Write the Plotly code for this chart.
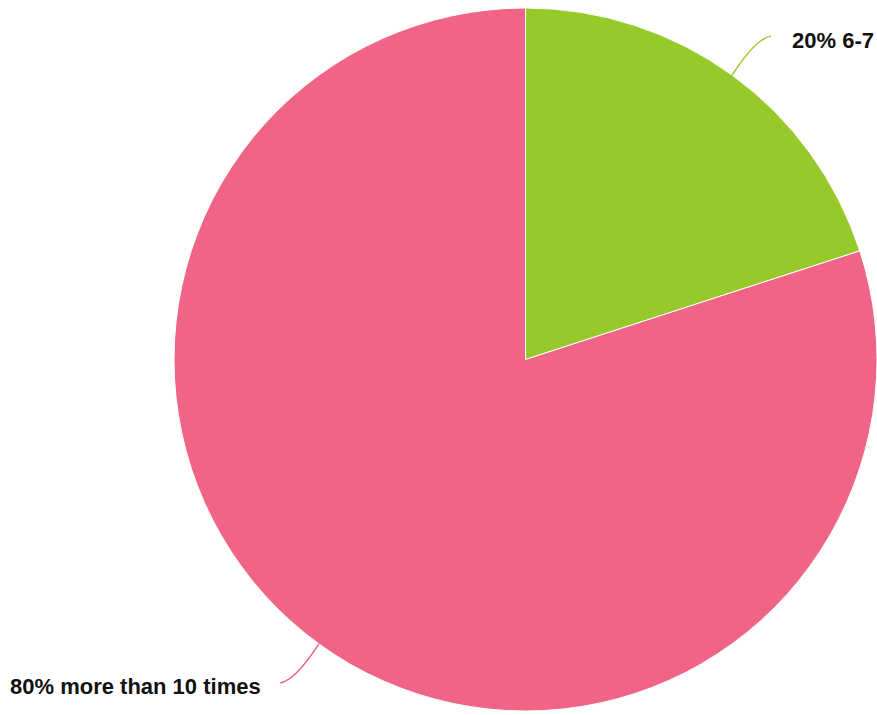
import math
import plotly.graph_objects as go

labels = ["6-7", "more than 10 times"]
values = [20, 80]
colors = ["#97C92A", "#F06486"]

W, H = 877, 715
cx, cy, R = 525.5, 359.5, 351.5

fig = go.Figure(go.Pie(
    labels=labels, values=values, sort=False, direction="clockwise", rotation=0,
    marker=dict(colors=colors, line=dict(color="white", width=1)),
    textinfo="none", hoverinfo="label+percent", showlegend=False,
    domain=dict(x=[(cx - R) / W, (cx + R) / W], y=[(H - cy - R) / H, (H - cy + R) / H]),
))

def px(x, y):
    return x / W, 1 - y / H

total = sum(values)
cum = 0
shapes, annots = [], []
for i, v in enumerate(values):
    mid = (cum + v / 2) / total * 2 * math.pi
    cum += v
    sx, sy = cx + R * math.sin(mid), cy - R * math.cos(mid)
    side = 1 if math.sin(mid) > 0 else -1
    vert = -1 if math.cos(mid) > 0 else 1
    ex, ey = sx + side * 39, sy + vert * 39
    qx, qy = sx + side * 24, ey - vert * 2
    p = [px(sx, sy), px(qx, qy), px(ex, ey)]
    shapes.append(dict(type="path", xref="paper", yref="paper",
                       path=f"M {p[0][0]},{p[0][1]} Q {p[1][0]},{p[1][1]} {p[2][0]},{p[2][1]}",
                       line=dict(color=colors[i], width=1.5)))
    tx = ex + 19 if side > 0 else ex - 17
    ax, ay = px(tx, ey + 4)
    annots.append(dict(xref="paper", yref="paper", x=ax, y=ay, showarrow=False,
                       xanchor="left" if side > 0 else "right", yanchor="middle",
                       text=f"<b>{v / total * 100:.0f}% {labels[i]}</b>",
                       font=dict(family="Liberation Sans, Arial, sans-serif", size=22, color="#111111")))

fig.update_layout(width=W, height=H, margin=dict(l=0, r=0, t=0, b=0),
                  paper_bgcolor="white", plot_bgcolor="white",
                  shapes=shapes, annotations=annots)
fig.write_html("out.html", config={"displayModeBar": False},
               post_script="document.body.style.margin='0';document.body.style.overflow='hidden';")
